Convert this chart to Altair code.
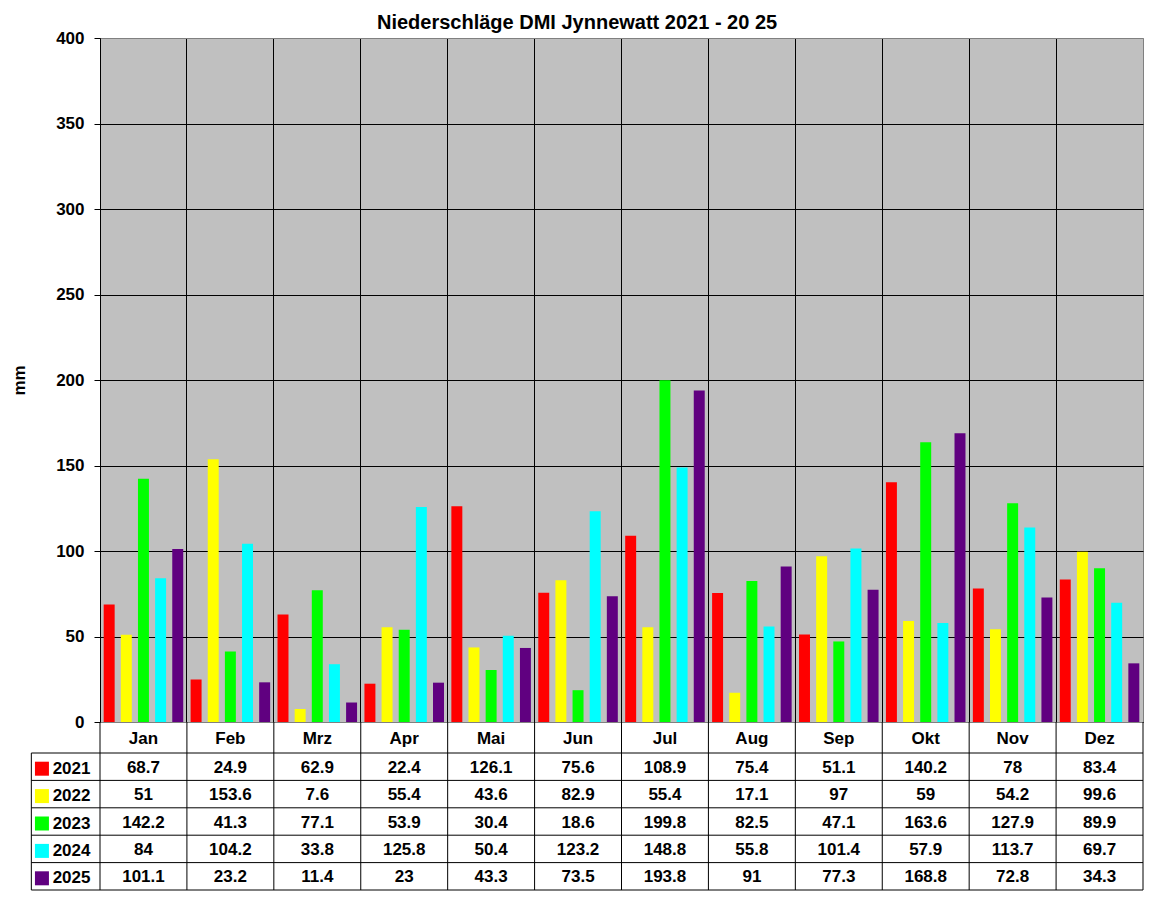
import altair as alt
import pandas as pd

# ---------------- data ----------------
MONTHS = ["Jan", "Feb", "Mrz", "Apr", "Mai", "Jun", "Jul", "Aug", "Sep", "Okt", "Nov", "Dez"]
YEARS = ["2021", "2022", "2023", "2024", "2025"]
COLORS = ["#FF0000", "#FFFF00", "#00FF00", "#00FFFF", "#600080"]

P2021 = [68.7, 24.9, 62.9, 22.4, 126.1, 75.6, 108.9, 75.4, 51.1, 140.2, 78, 83.4]
P2022 = [51, 153.6, 7.6, 55.4, 43.6, 82.9, 55.4, 17.1, 97, 59, 54.2, 99.6]
P2023 = [142.2, 41.3, 77.1, 53.9, 30.4, 18.6, 199.8, 82.5, 47.1, 163.6, 127.9, 89.9]
P2024 = [84, 104.2, 33.8, 125.8, 50.4, 123.2, 148.8, 55.8, 101.4, 57.9, 113.7, 69.7]
P2025 = [101.1, 23.2, 11.4, 23, 43.3, 73.5, 193.8, 91, 77.3, 168.8, 72.8, 34.3]
SERIES = [P2021, P2022, P2023, P2024, P2025]

Y_TICKS = [0, 50, 100, 150, 200, 250, 300, 350, 400]
TITLE = "Niederschläge DMI Jynnewatt 2021 - 20 25"
Y_TITLE = "mm"

# ---------------- layout / style ----------------
FONT = "Liberation Sans"
FS = 17
PLOT_W, PLOT_H = 1043, 684
TABLE_H = 168
ROW_PX = 27.4
HEADER = 31 / ROW_PX          # header row height in data-row units
TABLE_UNITS = HEADER + len(YEARS)
LEFT_COL = -0.79              # left border of table (month units)
SWATCH_X = -0.668
LABEL_X = -0.545

# ---------------- tables ----------------
bar_rows = []
for yr, vals in zip(YEARS, SERIES):
    for m, v in zip(MONTHS, vals):
        bar_rows.append({"month": m, "year": yr, "value": v})
bar_df = pd.DataFrame(bar_rows)

cell_rows = []
for i, m in enumerate(MONTHS):
    cell_rows.append({"cx": i + 0.5, "cy": HEADER / 2, "txt": m})
for r, (yr, vals) in enumerate(zip(YEARS, SERIES)):
    for i, v in enumerate(vals):
        cell_rows.append({"cx": i + 0.5, "cy": HEADER + r + 0.5, "txt": f"{v:g}"})
cell_df = pd.DataFrame(cell_rows)

label_df = pd.DataFrame({
    "year": YEARS,
    "cy": [HEADER + r + 0.5 for r in range(len(YEARS))],
    "lx": [LABEL_X] * len(YEARS),
    "sx": [SWATCH_X] * len(YEARS),
})

line_rows = []
for k in range(len(YEARS) + 1):
    yy = HEADER + k
    line_rows.append({"x": LEFT_COL, "x2": 12, "y": yy, "y2": yy})
for i in range(len(MONTHS) + 1):
    line_rows.append({"x": i, "x2": i, "y": 0, "y2": TABLE_UNITS})
line_rows.append({"x": LEFT_COL, "x2": LEFT_COL, "y": HEADER, "y2": TABLE_UNITS})
line_df = pd.DataFrame(line_rows)

# ---------------- bar chart ----------------
bars = alt.Chart(bar_df).mark_bar().encode(
    x=alt.X("month:N", sort=MONTHS, title=None,
            scale=alt.Scale(paddingInner=0, paddingOuter=0),
            axis=alt.Axis(labels=False, ticks=False, domain=True, domainColor="black",
                          domainWidth=1, grid=True, gridColor="black", gridWidth=1,
                          gridOpacity=1, bandPosition=0)),
    xOffset=alt.XOffset("year:N", sort=YEARS,
                        scale=alt.Scale(paddingInner=0.36, paddingOuter=0.215)),
    y=alt.Y("value:Q", title=Y_TITLE,
            scale=alt.Scale(domain=[0, 400], nice=False),
            axis=alt.Axis(values=Y_TICKS, grid=True,
                          gridColor={"condition": {"test": "datum.value === 400", "value": "#808080"},
                                     "value": "black"},
                          gridOpacity=1, gridWidth=1,
                          domainColor="black", tickColor="black", tickSize=6,
                          labelPadding=10, labelFont=FONT, labelFontSize=FS,
                          labelFontWeight="bold", labelColor="black",
                          titleFont=FONT, titleFontSize=FS, titleFontWeight="bold",
                          titleColor="black", titlePadding=27)),
    color=alt.Color("year:N", scale=alt.Scale(domain=YEARS, range=COLORS), legend=None),
).properties(width=PLOT_W, height=PLOT_H,
             view=alt.ViewBackground(fill="#C0C0C0", stroke="#808080"))

# ---------------- data table ----------------
xs = alt.Scale(domain=[0, 12], nice=False, zero=False)
ys = alt.Scale(domain=[0, TABLE_UNITS], nice=False, zero=False, reverse=True)

lines = alt.Chart(line_df).mark_rule(color="black", strokeWidth=1).encode(
    x=alt.X("x:Q", scale=xs, axis=None),
    x2="x2:Q",
    y=alt.Y("y:Q", scale=ys, axis=None),
    y2="y2:Q",
)

cells = alt.Chart(cell_df).mark_text(
    font=FONT, fontSize=FS, fontWeight="bold", color="black",
    align="center", baseline="middle", dy=1,
).encode(
    x=alt.X("cx:Q", scale=xs, axis=None),
    y=alt.Y("cy:Q", scale=ys, axis=None),
    text="txt:N",
)

swatches = alt.Chart(label_df).mark_square(size=196, opacity=1, filled=True).encode(
    x=alt.X("sx:Q", scale=xs, axis=None),
    y=alt.Y("cy:Q", scale=ys, axis=None),
    yOffset=alt.value(2),
    color=alt.Color("year:N", scale=alt.Scale(domain=YEARS, range=COLORS), legend=None),
)

year_labels = alt.Chart(label_df).mark_text(
    font=FONT, fontSize=FS, fontWeight="bold", color="black",
    align="left", baseline="middle", dy=2,
).encode(
    x=alt.X("lx:Q", scale=xs, axis=None),
    y=alt.Y("cy:Q", scale=ys, axis=None),
    text="year:N",
)

table = alt.layer(lines, swatches, cells, year_labels).properties(
    width=PLOT_W, height=TABLE_H,
    view=alt.ViewBackground(fill="white", stroke="transparent"),
)

chart = alt.vconcat(bars, table, spacing=0, bounds="flush").properties(
    title=alt.TitleParams(TITLE, font=FONT, fontSize=20, fontWeight="bold",
                          color="black", anchor="middle", offset=-4),
    background="white",
    padding={"left": 2, "top": 4, "right": 0, "bottom": 0},
).resolve_scale(color="shared")

chart.save("out.html", embed_options={"renderer": "svg", "actions": False})
